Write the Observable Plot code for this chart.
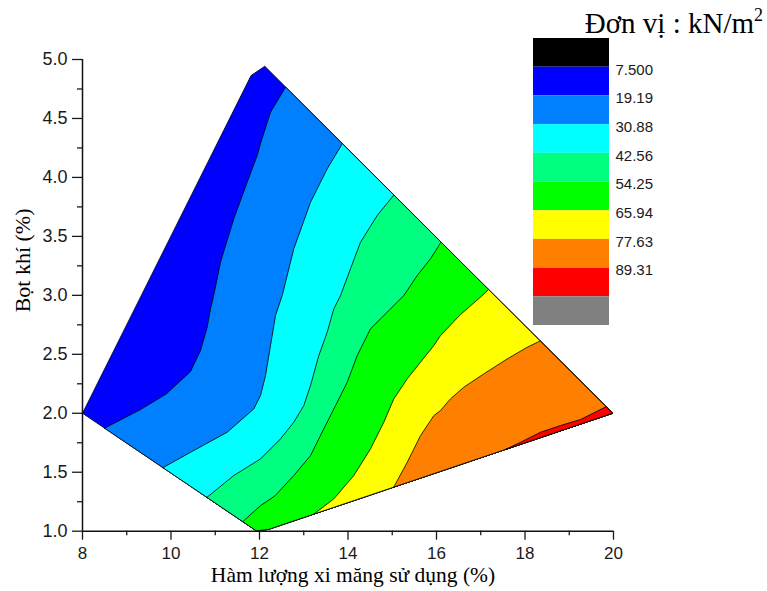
<!DOCTYPE html>
<html><head><meta charset="utf-8">
<script src="https://cdn.jsdelivr.net/npm/d3@7"></script>
<script src="https://cdn.jsdelivr.net/npm/@observablehq/plot@0.6"></script>
<style>
body{margin:0;background:#fff;}
#wrap{position:relative;width:767px;height:591px;overflow:hidden;background:#fff;}
#chart{position:absolute;left:0;top:0;}
#legend{position:absolute;left:533px;top:38px;}
#title{position:absolute;right:4px;top:9px;font-family:"Liberation Serif","Times New Roman",serif;font-size:29px;line-height:29px;color:#000;white-space:nowrap;}
#title sup{font-size:18px;line-height:0;vertical-align:12px;}
</style></head><body>
<div id="wrap"><div id="chart"></div><div id="legend"></div><div id="title">Đơn vị : kN/m<sup>2</sup></div></div>
<script>
// ---- data ----
const xTicks = [8, 10, 12, 14, 16, 18, 20];
const xMinorTicks = [9, 11, 13, 15, 17, 19];
const yTicks = [1.0, 1.5, 2.0, 2.5, 3.0, 3.5, 4.0, 4.5, 5.0];
const yMinorTicks = [1.25, 1.75, 2.25, 2.75, 3.25, 3.75, 4.25, 4.75];
const xLabel = "Hàm lượng xi măng sử dụng (%)";
const yLabel = "Bọt khí (%)";

const levels = [7.5, 19.19, 30.88, 42.56, 54.25, 65.94, 77.63, 89.31];
const levelLabels = ["7.500", "19.19", "30.88", "42.56", "54.25", "65.94", "77.63", "89.31"];
const bandColors = ["#000000", "#0000ff", "#0080ff", "#00ffff", "#00ff80", "#00ff00", "#ffff00", "#ff8000", "#ff0000", "#808080"];

// outline of the data domain (x = cement %, y = air %)
const domainOutline = [[8, 2.0], [11.81, 4.864], [12.12, 4.943], [19.98, 2.0], [12.2, 1.015], [11.93, 1.003]];

// contour lines (from the lower edge to the upper edge)
const contour19 = [[8.497,1.873],[9.311,2.031],[9.898,2.165],[10.441,2.354],[10.667,2.532],[10.818,2.729],[10.893,2.886],[10.96,2.99],[11.119,3.281],[11.419,3.649],[11.722,3.959],[11.948,4.186],[12.023,4.288],[12.249,4.553],[12.588,4.765]];
const contour30 = [[9.824,1.542],[10.441,1.669],[11.27,1.839],[11.871,2.037],[12.023,2.15],[12.136,2.32],[12.249,2.574],[12.362,2.829],[12.513,2.998],[12.775,3.394],[13.153,3.79],[13.53,4.073],[13.869,4.285]];
const contour42 = [[10.818,1.29],[11.419,1.472],[12.023,1.613],[12.475,1.783],[12.775,1.924],[13.001,2.065],[13.153,2.235],[13.34,2.489],[13.53,2.687],[13.679,2.885],[13.831,2.998],[14.056,3.225],[14.282,3.45],[14.66,3.677],[15.035,3.85]];
const contour54 = [[11.63,1.085],[12.023,1.217],[12.35,1.3],[12.775,1.472],[13.153,1.641],[13.453,1.868],[13.718,2.065],[13.982,2.263],[14.208,2.489],[14.508,2.716],[14.886,2.857],[15.261,2.998],[15.564,3.168],[15.864,3.31],[16.113,3.455]];
const contour65 = [[13.227,1.147],[13.679,1.274],[14.131,1.472],[14.508,1.698],[14.809,1.924],[15.035,2.122],[15.338,2.292],[15.638,2.433],[15.939,2.574],[16.09,2.659],[16.542,2.837],[17.033,2.998],[17.182,3.052]];
const contour77 = [[15.035,1.372],[15.338,1.584],[15.638,1.81],[15.939,1.98],[16.09,2.023],[16.316,2.122],[16.617,2.221],[17.069,2.334],[17.598,2.461],[18.05,2.56],[18.35,2.616]];
const contour89 = [[17.559,1.692],[17.898,1.754],[18.35,1.839],[18.802,1.896],[19.254,1.947],[19.83,2.055]];

const contours = [contour19, contour30, contour42, contour54, contour65, contour77, contour89];

// ---- build band polygons ("value above level" regions), painter's order ----
const n = domainOutline.length;
const SY = 117.9 / 44.25; // aspect to measure distances in screen proportion
function snap(p) {
  let best = null;
  for (let i = 0; i < n; i++) {
    const a = domainOutline[i], b = domainOutline[(i + 1) % n];
    const dx = b[0] - a[0], dy = b[1] - a[1];
    let u = ((p[0] - a[0]) * dx + (p[1] - a[1]) * dy * SY * SY) / (dx * dx + dy * dy * SY * SY);
    u = Math.max(0, Math.min(1, u));
    const q = [a[0] + u * dx, a[1] + u * dy];
    const d = (q[0] - p[0]) ** 2 + ((q[1] - p[1]) * SY) ** 2;
    if (!best || d < best.d) best = {d, t: i + u, q};
  }
  return best;
}
function abovePolygon(line) {
  const s = snap(line[0]), e = snap(line[line.length - 1]);
  const pts = [s.q, ...line.slice(1, -1), e.q];
  let tEnd = s.t; if (tEnd < e.t) tEnd += n;
  for (let k = Math.floor(e.t) + 1; k < tEnd; k++) pts.push(domainOutline[k % n]);
  pts.push(s.q);
  return pts;
}
const polygons = [{pts: [...domainOutline, domainOutline[0]], fill: bandColors[1]}]
  .concat(contours.map((c, i) => ({pts: abovePolygon(c), fill: bandColors[i + 2]})));

const serif = "'Liberation Serif','Times New Roman',serif";
const chart = Plot.plot({
  width: 767, height: 591,
  marginLeft: 82, marginRight: 154, marginTop: 59, marginBottom: 60.3,
  x: {domain: [8, 20]},
  y: {domain: [1, 5]},
  style: {fontFamily: "'Liberation Sans',Arial,sans-serif", fontSize: "17px", color: "#1a1a1a", background: "transparent"},
  marks: [
    ...polygons.map(p => Plot.line(p.pts, {x: d => d[0], y: d => d[1], fill: p.fill, stroke: "#000", strokeWidth: 0.8, strokeLinejoin: "round"})),
    Plot.axisX(xTicks, {tickSize: 9, tickPadding: 7, strokeWidth: 1.3, label: null, fontSize: 17}),
    Plot.axisX(xMinorTicks, {tickSize: 4.5, strokeWidth: 1.3, tickFormat: () => "", label: null}),
    Plot.axisY(yTicks, {tickSize: 10, tickPadding: 5, strokeWidth: 1.3, tickFormat: d => d.toFixed(1), label: null, fontSize: 18}),
    Plot.axisY(yMinorTicks, {tickSize: 5, strokeWidth: 1.3, tickFormat: () => "", label: null}),
    Plot.ruleX([8], {stroke: "#111", strokeWidth: 1.5}),
    Plot.ruleY([1], {stroke: "#111", strokeWidth: 1.5}),
    Plot.text([xLabel], {frameAnchor: "bottom", dx: 5, dy: 51, fontFamily: serif, fontSize: 21.5, fill: "#000"}),
    Plot.text([yLabel], {frameAnchor: "left", dx: -60, dy: 17, rotate: -90, fontFamily: serif, fontSize: 22, fill: "#000"})
  ]
});
document.getElementById("chart").appendChild(chart);

const legend = Plot.plot({
  width: 234, height: 288, marginTop: 0, marginBottom: 1, marginLeft: 0, marginRight: 158,
  x: {domain: [0, 1], axis: null},
  y: {domain: [0, bandColors.length], range: [0, 287], axis: null},
  style: {fontFamily: "'Liberation Sans',Arial,sans-serif", fontSize: "15px", background: "transparent", overflow: "visible"},
  marks: [
    Plot.rect(bandColors.map((c, i) => ({c, i})), {x1: 0, x2: 1, y1: d => d.i, y2: d => d.i + 1, fill: d => d.c}),
    Plot.text(levelLabels, {x: 1, y: (d, i) => i + 1, dx: 6, dy: 2.5, textAnchor: "start", fill: "#1a1a1a"})
  ]
});
document.getElementById("legend").appendChild(legend);
</script>
</body></html>
